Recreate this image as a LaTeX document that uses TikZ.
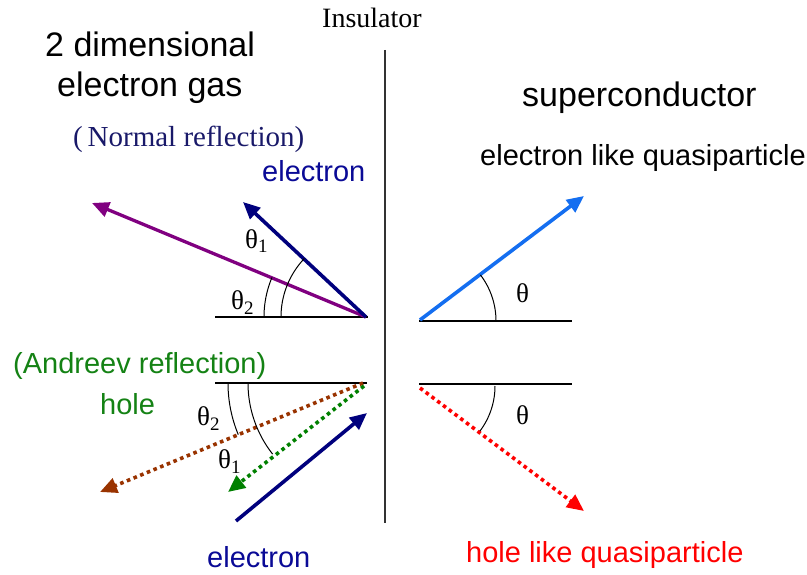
\documentclass[tikz,border=0pt]{standalone}
\usepackage{fontspec}
\setmainfont{Liberation Serif}
\setsansfont{Liberation Sans}
\usetikzlibrary{arrows.meta}
\definecolor{navyA}{RGB}{0,0,125}
\definecolor{navyT}{RGB}{10,10,150}
\definecolor{normT}{RGB}{25,25,105}
\definecolor{purpA}{RGB}{128,0,128}
\definecolor{blueA}{RGB}{20,110,240}
\definecolor{greenA}{RGB}{0,128,0}
\definecolor{greenT}{RGB}{20,130,20}
\definecolor{brownA}{RGB}{153,51,0}
\definecolor{redA}{RGB}{255,0,0}
\newcommand{\thsub}[1]{θ\raisebox{-5pt}{\fontsize{19}{19}\selectfont #1}}
\tikzset{
  lbl/.style={inner sep=0pt, anchor=base west},
  sanslbl/.style={lbl, font=\sffamily\fontsize{29}{34}\selectfont},
  biglbl/.style={lbl, font=\sffamily\fontsize{34}{40}\selectfont},
  serlbl/.style={lbl, font=\rmfamily\fontsize{29}{34}\selectfont},
  thlbl/.style={lbl, font=\rmfamily\fontsize{27}{30}\selectfont},
  refline/.style={line width=1.3pt, black},
  wall/.style={line width=1.4pt, black!80},
  anglearc/.style={line width=1pt, black},
  tipA/.style={-{Triangle[length=17pt,width=15pt]}},
  solidarrow/.style={tipA, line width=3.6pt},
  dotarrow/.style={tipA, line width=3.6pt, dash pattern=on 3.6pt off 3.6pt},
}
\begin{document}
\begin{tikzpicture}[x=1pt,y=-1pt]
\useasboundingbox (0,0) rectangle (807,575);
% texts
\node[lbl, font=\rmfamily\fontsize{28}{32}\selectfont] (ins) at (322,28) {Insulator};
\node[biglbl] (tdeg1) at (45,57) {2 dimensional};
\node[biglbl] (tdeg2) at (57,97) {electron gas};
\node[biglbl] (tsc) at (522,107) {superconductor};
\node[serlbl, text=normT] (tnorm) at (73,147) {(\,Normal reflection)};
\node[sanslbl, text=navyT] (telu) at (262,182) {electron};
\node[sanslbl] (telq) at (480,166) {electron like quasiparticle};
\node[sanslbl, text=greenT] (tand) at (13,373) {(Andreev reflection)};
\node[sanslbl, text=greenT] (thole) at (100,414) {hole};
\node[sanslbl, text=navyT] (teld) at (207,567) {electron};
\node[sanslbl, text=redA] (thq) at (466,562) {hole like quasiparticle};
\node[thlbl] (th1u) at (245,248) {\thsub{1}};
\node[thlbl] (th2u) at (231,309) {\thsub{2}};
\node[thlbl] (th2d) at (197,425) {\thsub{2}};
\node[thlbl] (th1d) at (218,468) {\thsub{1}};
\node[thlbl] (thru) at (516,302) {θ};
\node[thlbl] (thrd) at (516,424) {θ};
% insulator wall
\coordinate (wtop) at (385,50);
\coordinate (wbot) at (385,523);
\draw[wall] (wtop) -- (wbot);
% reference lines
\coordinate (h1a) at (215,317); \coordinate (h1b) at (368,317);
\coordinate (h2a) at (215,383); \coordinate (h2b) at (367,383);
\coordinate (h3a) at (419,321); \coordinate (h3b) at (572,321);
\coordinate (h4a) at (419,384); \coordinate (h4b) at (572,384);
\draw[refline] (h1a) -- (h1b);
\draw[refline] (h2a) -- (h2b);
\draw[refline] (h3a) -- (h3b);
\draw[refline] (h4a) -- (h4b);
% upper left: normal reflection
\coordinate (vu) at (366,317);
\coordinate (eu) at (243,202);
\coordinate (nu) at (92,203);
\draw[solidarrow, purpA, line width=3.3pt] (vu) -- (nu);
\draw[solidarrow, navyA] (vu) -- (eu);
\draw[anglearc] plot[domain=180:223.5, samples=30] ({366+85*cos(\x)},{317+85*sin(\x)});
\draw[anglearc] plot[domain=180:202.8, samples=30] ({366+102*cos(\x)},{317+102*sin(\x)});
% lower left: Andreev reflection
\coordinate (vd) at (363,383);
\coordinate (vd2) at (364,386);
\coordinate (bd) at (100,492);
\coordinate (gd) at (228,492);
\coordinate (es) at (236,521);
\coordinate (ee) at (367,413);
\draw[dotarrow, brownA] (vd) -- (bd);
\draw[dotarrow, greenA] (vd2) -- (gd);
\draw[solidarrow, navyA] (es) -- (ee);
\draw[anglearc] plot[domain=157.5:180, samples=30] ({363+135*cos(\x)},{383+135*sin(\x)});
\draw[anglearc] plot[domain=141.8:180, samples=30] ({363+115*cos(\x)},{383+115*sin(\x)});
% right: superconductor
\coordinate (vr1) at (420,320);
\coordinate (br) at (584,196);
\coordinate (vr2) at (420,388);
\coordinate (rr) at (584,511);
\draw[solidarrow, blueA] (vr1) -- (br);
\draw[dotarrow, redA] (vr2) -- (rr);
\draw[anglearc] plot[domain=-37.3:0, samples=30] ({420+76*cos(\x)},{321+76*sin(\x)});
\draw[anglearc] plot[domain=0:37, samples=30] ({420+75*cos(\x)},{386+75*sin(\x)});
\end{tikzpicture}
\end{document}
